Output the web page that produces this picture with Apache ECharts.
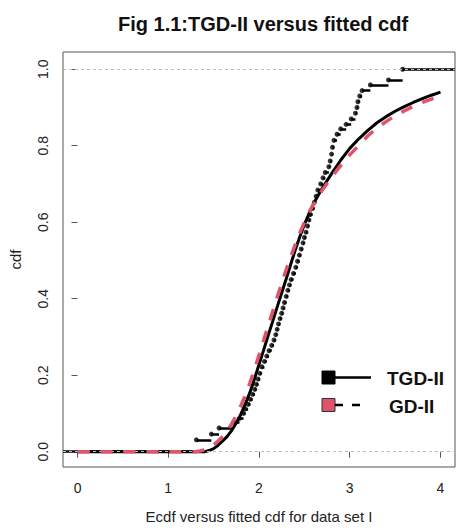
<!DOCTYPE html>
<html><head><meta charset="utf-8">
<script src="https://cdn.jsdelivr.net/npm/echarts@6/dist/echarts.min.js"></script>
<style>html,body{margin:0;padding:0;background:#fff}#c{width:456px;height:530px}</style>
</head><body><div id="c"></div>
<script>
// ---- data ----
const xTicks = [0, 1, 2, 3, 4];
const yTicks = [0, 0.2, 0.4, 0.6, 0.8, 1.0];
const legendNames = ['TGD-II', 'GD-II'];
// empirical cdf jump points (x) and levels after the jump (y)
const ecdfX = [1.31,1.475,1.56,1.72,1.785,1.83,1.85,1.88,1.905,1.93,1.954,1.972,1.99,2.01,2.03,2.06,2.085,2.11,2.14,2.165,2.185,2.20,2.215,2.232,2.25,2.265,2.281,2.30,2.318,2.336,2.354,2.38,2.405,2.425,2.445,2.465,2.485,2.50,2.518,2.535,2.55,2.565,2.59,2.609,2.63,2.648,2.68,2.705,2.73,2.77,2.785,2.80,2.81,2.826,2.86,2.90,2.96,3.016,3.063,3.08,3.09,3.11,3.136,3.227,3.427,3.583];
const ecdfY = [0.031,0.046,0.062,0.077,0.087,0.100,0.112,0.124,0.137,0.150,0.163,0.176,0.190,0.205,0.222,0.236,0.250,0.264,0.278,0.292,0.306,0.320,0.334,0.348,0.362,0.376,0.390,0.406,0.422,0.436,0.450,0.466,0.482,0.498,0.514,0.530,0.546,0.560,0.574,0.590,0.606,0.620,0.636,0.652,0.668,0.684,0.700,0.716,0.730,0.745,0.760,0.778,0.796,0.814,0.830,0.844,0.856,0.870,0.885,0.900,0.915,0.930,0.944,0.959,0.972,1.000];
// fitted cdfs
const fitX = [0,1.0,1.3,1.35,1.4,1.45,1.5,1.55,1.6,1.65,1.7,1.75,1.8,1.85,1.9,1.95,2.0,2.05,2.1,2.15,2.2,2.25,2.3,2.35,2.4,2.45,2.5,2.55,2.6,2.7,2.8,2.9,3.0,3.1,3.2,3.3,3.4,3.5,3.6,3.7,3.8,3.9,4.0];
const tgdY = [0,0,0,0,0,0.003,0.008,0.017,0.028,0.040,0.056,0.075,0.098,0.125,0.155,0.190,0.228,0.265,0.303,0.340,0.378,0.415,0.452,0.490,0.528,0.562,0.594,0.622,0.648,0.690,0.727,0.762,0.793,0.818,0.840,0.860,0.876,0.890,0.902,0.913,0.923,0.932,0.940];
const gdY  = [0,0,0,0.002,0.005,0.010,0.018,0.028,0.040,0.055,0.073,0.095,0.120,0.148,0.180,0.215,0.252,0.290,0.328,0.366,0.404,0.440,0.476,0.510,0.542,0.572,0.600,0.625,0.647,0.685,0.718,0.748,0.776,0.801,0.826,0.846,0.863,0.878,0.891,0.903,0.913,0.922,0.930];

// ---- chart ----
const X_MIN = -0.16, X_MAX = 4.16, Y_MIN = -0.04, Y_MAX = 1.045;
const FONT = "'Liberation Sans', Arial, sans-serif";
const RED = '#DF536B';

const segs = [{coords: [[X_MIN, 0], [ecdfX[0], 0]]}];
for (let i = 0; i < ecdfX.length; i++) {
  const xe = i < ecdfX.length - 1 ? ecdfX[i + 1] : X_MAX;
  segs.push({coords: [[ecdfX[i], ecdfY[i]], [xe, ecdfY[i]]]});
}
const pts = ecdfX.map((x, i) => [x, ecdfY[i]]);
const tgd = fitX.map((x, i) => [x, tgdY[i]]);
const gd = fitX.map((x, i) => [x, gdY[i]]);

const chart = echarts.init(document.getElementById('c'), null, {renderer: 'svg'});
chart.setOption({
  animation: false,
  backgroundColor: '#fff',
  title: {
    text: 'Fig 1.1:TGD-II versus fitted cdf',
    left: 113, top: 9,
    textStyle: {fontFamily: FONT, fontWeight: 'bold', fontSize: 20, color: '#111'}
  },
  grid: {left: 60, top: 52, width: 395, height: 415, show: true, borderColor: '#555', borderWidth: 1, backgroundColor: 'transparent'},
  xAxis: {
    type: 'value', min: X_MIN, max: X_MAX,
    axisLine: {show: false},
    splitLine: {show: false},
    axisTick: {show: true, customValues: xTicks, length: 6, lineStyle: {color: '#555'}},
    axisLabel: {customValues: xTicks, fontFamily: FONT, fontSize: 14, color: '#222', margin: 14},
    name: 'Ecdf versus fitted cdf for data set I',
    nameLocation: 'middle', nameGap: 42,
    nameTextStyle: {fontFamily: FONT, fontSize: 15, color: '#222'}
  },
  yAxis: {
    type: 'value', min: Y_MIN, max: Y_MAX,
    axisLine: {show: false},
    splitLine: {show: false},
    axisTick: {show: true, customValues: yTicks, length: 6, lineStyle: {color: '#555'}},
    axisLabel: {customValues: yTicks, rotate: 90, formatter: v => v.toFixed(1), fontFamily: FONT, fontSize: 14, color: '#222', margin: 13},
    name: 'cdf', nameLocation: 'middle', nameGap: 40, nameRotate: 90,
    nameTextStyle: {fontFamily: FONT, fontSize: 15, color: '#222'}
  },
  series: [
    {
      type: 'line', data: [], silent: true, z: 1,
      markLine: {
        silent: true, symbol: 'none', label: {show: false},
        lineStyle: {color: '#bdbdbd', type: [3, 3], width: 1},
        data: [{yAxis: 0}, {yAxis: 1}]
      }
    },
    {type: 'lines', coordinateSystem: 'cartesian2d', data: segs, z: 2,
     lineStyle: {color: '#000', width: 2.5, opacity: 1}},
    {type: 'scatter', data: pts, symbol: 'circle', symbolSize: 5, z: 3,
     itemStyle: {color: '#000'}},
    {name: legendNames[0], type: 'line', data: tgd, showSymbol: false, z: 4,
     lineStyle: {color: '#000', width: 3}},
    {name: legendNames[1], type: 'line', data: gd, showSymbol: false, z: 5,
     lineStyle: {color: RED, width: 3.5, type: [12, 11]}}
  ],
  graphic: [
    {type: 'rect', shape: {x: 322, y: 371, width: 13, height: 13}, style: {fill: '#000', stroke: '#000', lineWidth: 1}},
    {type: 'line', shape: {x1: 335, y1: 377.5, x2: 371, y2: 377.5}, style: {stroke: '#000', lineWidth: 2.5}},
    {type: 'text', x: 387, y: 378, style: {text: legendNames[0], font: 'bold 19px ' + FONT, fill: '#111', verticalAlign: 'middle'}},
    {type: 'rect', shape: {x: 322, y: 398.5, width: 13, height: 13}, style: {fill: RED, stroke: '#333', lineWidth: 1}},
    {type: 'line', shape: {x1: 335, y1: 405, x2: 365, y2: 405}, style: {stroke: '#000', lineWidth: 2.5, lineDash: [8, 9]}},
    {type: 'text', x: 389, y: 406, style: {text: legendNames[1], font: 'bold 19px ' + FONT, fill: '#111', verticalAlign: 'middle'}}
  ]
});
</script>
</body></html>
